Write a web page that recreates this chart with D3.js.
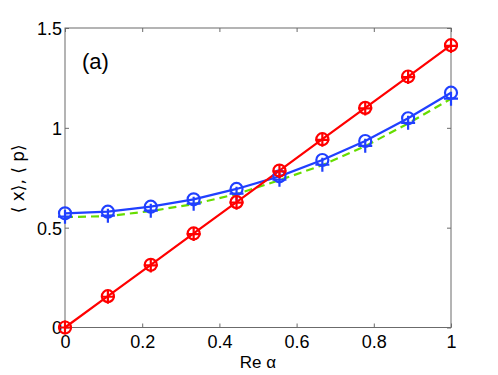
<!DOCTYPE html>
<html>
<head>
<meta charset="utf-8">
<script src="https://cdn.jsdelivr.net/npm/d3@7"></script>
<style>
  body { margin: 0; background: #fff; }
  text { font-family: "Liberation Sans", Arial, sans-serif; }
</style>
</head>
<body>
<svg id="chart" width="498" height="375"></svg>
<script>
// values
const reAlpha = [0, 0.1111, 0.2222, 0.3333, 0.4444, 0.5556, 0.6667, 0.7778, 0.8889, 1];
const xCircle = [0, 0.157, 0.314, 0.471, 0.628, 0.786, 0.943, 1.1, 1.257, 1.414];
const xPlus   = [0, 0.154, 0.311, 0.468, 0.625, 0.782, 0.94, 1.097, 1.254, 1.41];
const pCircle = [0.572, 0.58, 0.605, 0.642, 0.694, 0.757, 0.839, 0.934, 1.048, 1.176];
const pPlus   = [0.555, 0.56, 0.585, 0.62, 0.67, 0.74, 0.815, 0.91, 1.025, 1.146];
const pDashed = [0.553, 0.558, 0.583, 0.618, 0.668, 0.738, 0.813, 0.908, 1.022, 1.146];
const xTicks = [0, 0.2, 0.4, 0.6, 0.8, 1];
const yTicks = [0, 0.5, 1, 1.5];

const svg = d3.select('#chart');
const mLeft = 65, mRight = 451, mTop = 28, mBottom = 327.5;

const x = d3.scaleLinear().domain([0, 1]).range([mLeft, mRight]);
const y = d3.scaleLinear().domain([0, 1.5]).range([mBottom, mTop]);

const red = '#ff0000', blue = '#2040ff', green = '#66dd00';

// frame
svg.append('rect')
	.attr('x', mLeft).attr('y', mTop)
	.attr('width', mRight - mLeft).attr('height', mBottom - mTop)
	.attr('fill', 'none').attr('stroke', '#6b6b6b').attr('stroke-width', 1);

// ticks inside, on every side
const tickLen = 4;
const axisBottom = svg.append('g').attr('transform', `translate(0,${mBottom})`)
	.call(d3.axisBottom(x).tickValues(xTicks).tickSizeInner(-tickLen).tickSizeOuter(0).tickPadding(8).tickFormat(d3.format('')));
const axisTop = svg.append('g').attr('transform', `translate(0,${mTop})`)
	.call(d3.axisTop(x).tickValues(xTicks).tickSizeInner(-tickLen).tickSizeOuter(0).tickFormat(''));
const axisLeft = svg.append('g').attr('transform', `translate(${mLeft},0)`)
	.call(d3.axisLeft(y).tickValues(yTicks).tickSizeInner(-tickLen).tickSizeOuter(0).tickPadding(3).tickFormat(d3.format('')));
const axisRight = svg.append('g').attr('transform', `translate(${mRight},0)`)
	.call(d3.axisRight(y).tickValues(yTicks).tickSizeInner(-tickLen).tickSizeOuter(0).tickFormat(''));

[axisBottom, axisTop, axisLeft, axisRight].forEach(a => {
	a.select('.domain').remove();
	a.selectAll('line').attr('stroke', '#6b6b6b');
	a.selectAll('text').attr('font-size', 18).attr('fill', '#000')
		.style('font-family', '"Liberation Sans", Arial, sans-serif');
});
axisBottom.selectAll('text').attr('dy', '0.72em');
axisLeft.selectAll('text').attr('dy', '0.36em');

// lines
const line = vals => d3.line().x((d, i) => x(reAlpha[i])).y(d => y(d))(vals);

svg.append('path').attr('d', line(pDashed))
	.attr('fill', 'none').attr('stroke', green).attr('stroke-width', 2.2)
	.attr('stroke-dasharray', '8,5');
svg.append('path').attr('d', line(pCircle))
	.attr('fill', 'none').attr('stroke', blue).attr('stroke-width', 2.2);
svg.append('path').attr('d', line(xCircle))
	.attr('fill', 'none').attr('stroke', red).attr('stroke-width', 2.2);

// markers
const circles = (vals, color) => {
	svg.append('g').selectAll('circle')
		.data(vals)
		.enter()
		.append('circle')
		.attr('cx', (d, i) => x(reAlpha[i]))
		.attr('cy', d => y(d))
		.attr('r', 6)
		.attr('fill', 'none')
		.attr('stroke', color)
		.attr('stroke-width', 2.2);
};
const pluses = (vals, color) => {
	const s = 7;
	svg.append('g').selectAll('path')
		.data(vals)
		.enter()
		.append('path')
		.attr('d', (d, i) => {
			const cx = x(reAlpha[i]), cy = y(d);
			return `M${cx - s},${cy}H${cx + s}M${cx},${cy - s}V${cy + s}`;
		})
		.attr('fill', 'none')
		.attr('stroke', color)
		.attr('stroke-width', 2.2);
};
pluses(pPlus, blue);
circles(pCircle, blue);
pluses(xPlus, red);
circles(xCircle, red);

// labels
svg.append('text')
	.attr('x', (mLeft + mRight) / 2).attr('y', 368)
	.attr('text-anchor', 'middle').attr('font-size', 17)
	.text('Re α');

svg.append('text')
	.attr('transform', `translate(24,${(mTop + mBottom) / 2 + 1}) rotate(-90)`)
	.attr('text-anchor', 'middle').attr('font-size', 17)
	.style('font-family', '"DejaVu Sans", sans-serif')
	.text('⟨ x⟩, ⟨ p⟩');

svg.append('text')
	.attr('x', 82).attr('y', 69)
	.attr('font-size', 22)
	.text('(a)');
</script>
</body>
</html>
